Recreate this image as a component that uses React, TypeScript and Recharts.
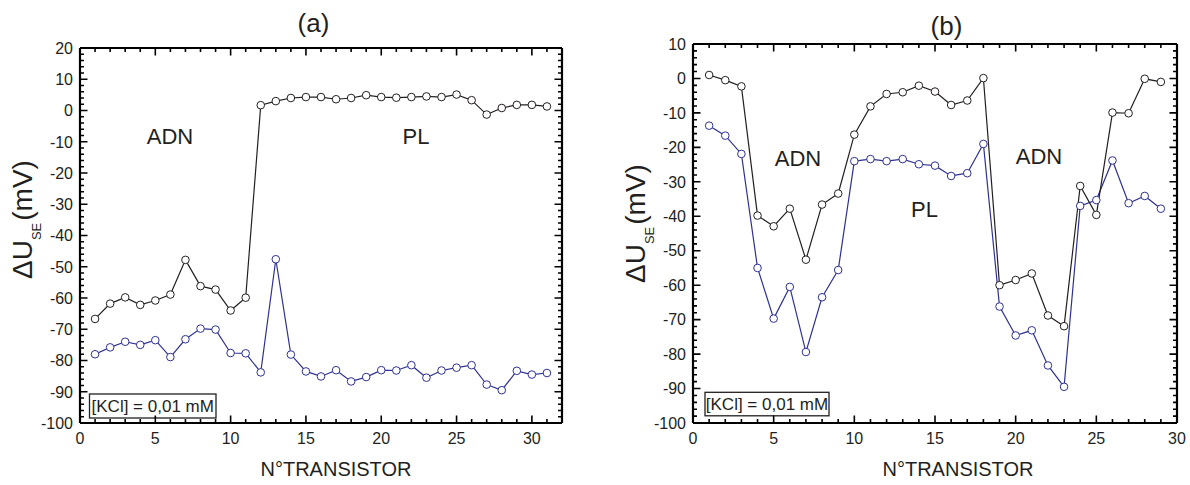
import React from 'react';
import { LineChart, Line, XAxis, YAxis, ReferenceLine } from 'recharts';

const FONT = '"Liberation Sans", Arial, Helvetica, sans-serif';
const INK = '#231f20';
const AXIS = '#000000';
const BLUE = '#2e3192';

// ---------- Panel (a) data ----------
const transistorsA = [1, 2, 3, 4, 5, 6, 7, 8, 9, 10, 11, 12, 13, 14, 15, 16, 17, 18, 19, 20, 21, 22, 23, 24, 25, 26, 27, 28, 29, 30, 31];
const blackA = [-66.7, -61.8, -59.8, -62.2, -60.8, -58.9, -47.8, -56.2, -57.3, -64.0, -59.9, 1.7, 3.0, 4.0, 4.3, 4.3, 3.6, 4.0, 4.9, 4.3, 4.1, 4.3, 4.5, 4.3, 5.1, 3.3, -1.3, 0.8, 1.8, 1.8, 1.3];
const blueA = [-78.0, -75.8, -74.0, -75.0, -73.5, -78.9, -73.2, -69.8, -70.1, -77.6, -77.7, -83.8, -47.6, -78.1, -83.5, -85.1, -83.1, -86.7, -85.3, -83.1, -83.2, -81.5, -85.5, -83.2, -82.3, -81.5, -87.7, -89.5, -83.3, -84.5, -84.0];

// ---------- Panel (b) data ----------
const transistorsB = [1, 2, 3, 4, 5, 6, 7, 8, 9, 10, 11, 12, 13, 14, 15, 16, 17, 18, 19, 20, 21, 22, 23, 24, 25, 26, 27, 28, 29];
const blackB = [1.0, -0.5, -2.3, -39.8, -42.9, -37.8, -52.6, -36.6, -33.4, -16.3, -8.1, -4.5, -4.0, -2.1, -3.8, -7.7, -6.4, 0.1, -60.0, -58.5, -56.6, -68.8, -71.9, -31.2, -39.6, -9.9, -10.1, -0.1, -1.0];
const blueB = [-13.7, -16.6, -21.9, -55.0, -69.7, -60.5, -79.4, -63.5, -55.6, -24.0, -23.4, -24.0, -23.4, -24.9, -25.3, -28.3, -27.5, -19.0, -66.2, -74.6, -73.1, -83.3, -89.5, -37.0, -35.3, -23.8, -36.2, -34.1, -37.8];

// ---------- Axis tick labels ----------
const xMajorA = [0, 5, 10, 15, 20, 25, 30];
const xMajorB = [0, 5, 10, 15, 20, 25, 30];
const yMajorA = [-100, -90, -80, -70, -60, -50, -40, -30, -20, -10, 0, 10, 20];
const yMajorB = [-100, -90, -80, -70, -60, -50, -40, -30, -20, -10, 0, 10];

const steps = (a: number, b: number, s: number) => {
  const r: number[] = [];
  for (let v = a; v <= b + 1e-9; v += s) r.push(Math.round(v * 100) / 100);
  return r;
};

const makeTick = (orient: string, majors: number[], span: number) => (props: any) => {
  const { x, y, payload } = props;
  const v = payload.value;
  const major = majors.includes(v);
  const len = major ? 7.5 : 4;
  let d = '';
  let label: any = null;
  if (orient === 'bottom') {
    d = `M${x},${y}V${y - len}M${x},${y - span}V${y - span + len}`;
    if (major)
      label = (
        <text x={x} y={y + 21} textAnchor="middle" fontSize={16} fontFamily={FONT} fill={INK}>
          {v}
        </text>
      );
  } else {
    d = `M${x},${y}H${x + len}M${x + span},${y}H${x + span - len}`;
    if (major)
      label = (
        <text x={x - 7} y={y} dy="0.36em" textAnchor="end" fontSize={16} fontFamily={FONT} fill={INK}>
          {v}
        </text>
      );
  }
  return (
    <g>
      <path d={d} stroke={AXIS} strokeWidth={1.6} fill="none" />
      {label}
    </g>
  );
};

const txt = { fontFamily: FONT, fill: INK, textAnchor: 'middle' as const };

export default function App() {
  const dataA = transistorsA.map((n, i) => ({ n, black: blackA[i], blue: blueA[i] }));
  const dataB = transistorsB.map((n, i) => ({ n, black: blackB[i], blue: blueB[i] }));
  // plot areas: (a) left 80, top 48, width 482, height 375 ; (b) left 98, top 44, width 484, height 379
  return (
    <div style={{ position: 'absolute', left: 0, top: 0, width: 1190, height: 485, background: '#fff' }}>
      <LineChart width={595} height={485} data={dataA} margin={{ top: 48, bottom: 61, left: 79, right: 33 }}>
        <XAxis xAxisId="b" dataKey="n" type="number" domain={[0, 32]} ticks={steps(0, 32, 1)} interval={0} height={1} tickSize={0} tickMargin={0} axisLine={{ stroke: AXIS, strokeWidth: 2.2 }} tickLine={false} tick={makeTick('bottom', xMajorA, 375)} />
        <YAxis yAxisId="l" type="number" domain={[-100, 20]} ticks={steps(-100, 20, 2)} interval={0} width={1} tickSize={0} tickMargin={0} axisLine={{ stroke: AXIS, strokeWidth: 2.2 }} tickLine={false} tick={makeTick('left', yMajorA, 482)} />
        <ReferenceLine xAxisId="b" yAxisId="l" x={32} stroke={AXIS} strokeWidth={2.2} />
        <ReferenceLine xAxisId="b" yAxisId="l" y={20} stroke={AXIS} strokeWidth={2.2} />
        <Line xAxisId="b" yAxisId="l" type="linear" dataKey="blue" stroke={BLUE} strokeWidth={1.2} dot={{ r: 3.8, stroke: BLUE, strokeWidth: 1, fill: '#fff' }} isAnimationActive={false} />
        <Line xAxisId="b" yAxisId="l" type="linear" dataKey="black" stroke={INK} strokeWidth={1.2} dot={{ r: 3.8, stroke: INK, strokeWidth: 1, fill: '#fff' }} isAnimationActive={false} />
        <text x={313.5} y={32} fontSize={26} {...txt}>(a)</text>
        <text x={170} y={144} fontSize={22} {...txt}>ADN</text>
        <text x={416} y={144} fontSize={22} {...txt}>PL</text>
        <rect x={89.5} y={394} width={126.5} height={24} fill="#fff" stroke={INK} strokeWidth={1.3} />
        <text x={152.75} y={412} fontSize={17} {...txt}>[KCl] = 0,01 mM</text>
        <text x={32} y={279} transform="rotate(-90 32 279)" fontFamily={FONT} fill={INK} fontSize={28} textAnchor="start">
          ΔU<tspan fontSize={13} dy={9}>SE</tspan><tspan dy={-9} dx={2}>(mV)</tspan>
        </text>
        <text x={336} y={476} fontSize={20} {...txt}>N°TRANSISTOR</text>
      </LineChart>
      <div style={{ position: 'absolute', left: 595, top: 0 }}>
        <LineChart width={595} height={485} data={dataB} margin={{ top: 44, bottom: 61, left: 97, right: 13 }}>
          <XAxis xAxisId="b" dataKey="n" type="number" domain={[0, 30]} ticks={steps(0, 30, 1)} interval={0} height={1} tickSize={0} tickMargin={0} axisLine={{ stroke: AXIS, strokeWidth: 2.2 }} tickLine={false} tick={makeTick('bottom', xMajorB, 379)} />
          <YAxis yAxisId="l" type="number" domain={[-100, 10]} ticks={steps(-100, 10, 2)} interval={0} width={1} tickSize={0} tickMargin={0} axisLine={{ stroke: AXIS, strokeWidth: 2.2 }} tickLine={false} tick={makeTick('left', yMajorB, 484)} />
          <ReferenceLine xAxisId="b" yAxisId="l" x={30} stroke={AXIS} strokeWidth={2.2} />
          <ReferenceLine xAxisId="b" yAxisId="l" y={10} stroke={AXIS} strokeWidth={2.2} />
          <Line xAxisId="b" yAxisId="l" type="linear" dataKey="blue" stroke={BLUE} strokeWidth={1.2} dot={{ r: 3.8, stroke: BLUE, strokeWidth: 1, fill: '#fff' }} isAnimationActive={false} />
          <Line xAxisId="b" yAxisId="l" type="linear" dataKey="black" stroke={INK} strokeWidth={1.2} dot={{ r: 3.8, stroke: INK, strokeWidth: 1, fill: '#fff' }} isAnimationActive={false} />
          <text x={351.5} y={35} fontSize={26} {...txt}>(b)</text>
          <text x={203} y={166} fontSize={22} {...txt}>ADN</text>
          <text x={329.5} y={217} fontSize={22} {...txt}>PL</text>
          <text x={444} y={164} fontSize={22} {...txt}>ADN</text>
          <rect x={110} y={392.3} width={124} height={23.5} fill="#fff" stroke={INK} strokeWidth={1.3} />
          <text x={172} y={410} fontSize={17} {...txt}>[KCl] = 0,01 mM</text>
          <text x={50} y={283} transform="rotate(-90 50 283)" fontFamily={FONT} fill={INK} fontSize={28} textAnchor="start">
            ΔU<tspan fontSize={13} dy={9}>SE</tspan><tspan dy={-9} dx={2}>(mV)</tspan>
          </text>
          <text x={363} y={476} fontSize={20} {...txt}>N°TRANSISTOR</text>
        </LineChart>
      </div>
    </div>
  );
}
